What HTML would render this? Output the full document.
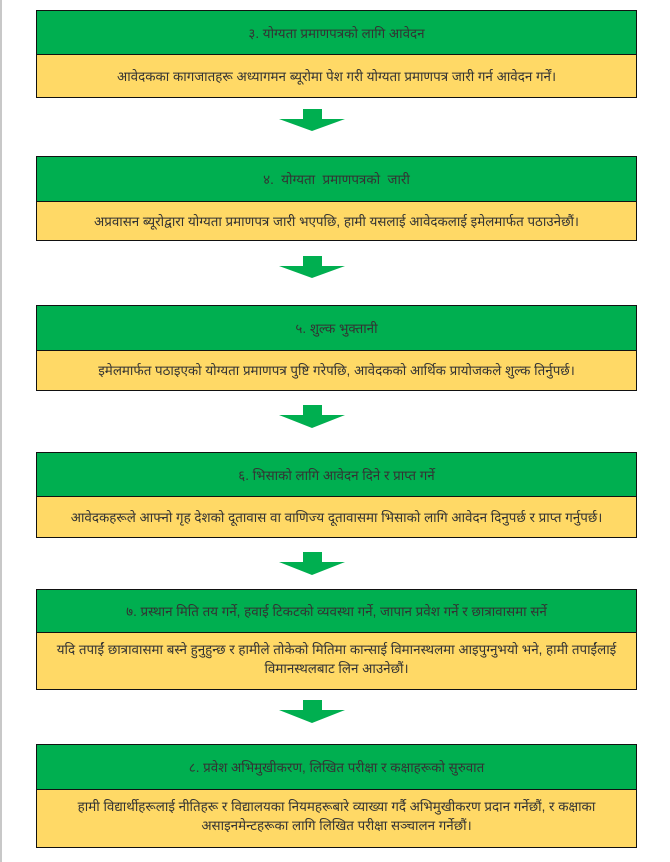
<!DOCTYPE html>
<html><head><meta charset="utf-8"><style>
html,body{margin:0;padding:0;background:#fff;width:670px;height:862px;overflow:hidden;position:relative;font-family:"Liberation Sans","Noto Sans CJK SC",sans-serif;}
.edge{position:absolute;left:0;top:0;width:2px;height:862px;background:#c8c8c8}
.box{position:absolute;left:36px;width:599px;border:1.5px solid #111;}
.g{background:#00AF50;display:flex;align-items:center;justify-content:center;border-bottom:1.5px solid #111;color:#333;font-size:13.4px}
.y{background:#FFD966;display:flex;align-items:center;justify-content:center;text-align:center;color:#333;font-size:13.4px;line-height:19px;padding:0 10px}
svg{position:absolute;left:0;top:0}
</style></head><body>
<div class="edge"></div>
<div class="box" style="top:10px"><div class="g" style="height:43px">३. योग्यता प्रमाणपत्रको लागि आवेदन</div><div class="y" style="height:42px">आवेदकका कागजातहरू अध्यागमन ब्यूरोमा पेश गरी योग्यता प्रमाणपत्र जारी गर्न आवेदन गर्नें।</div></div>
<div class="box" style="top:156px"><div class="g" style="height:44px">४.&nbsp; योग्यता&nbsp; प्रमाणपत्रको&nbsp; जारी</div><div class="y" style="height:38px">अप्रवासन ब्यूरोद्वारा योग्यता प्रमाणपत्र जारी भएपछि, हामी यसलाई आवेदकलाई इमेलमार्फत पठाउनेछौं।</div></div>
<div class="box" style="top:305px"><div class="g" style="height:44px">५. शुल्क भुक्तानी</div><div class="y" style="height:39px">इमेलमार्फत पठाइएको योग्यता प्रमाणपत्र पुष्टि गरेपछि, आवेदकको आर्थिक प्रायोजकले शुल्क तिर्नुपर्छ।</div></div>
<div class="box" style="top:452px"><div class="g" style="height:43px">६. भिसाको लागि आवेदन दिने र प्राप्त गर्ने</div><div class="y" style="height:40px">आवेदकहरूले आफ्नो गृह देशको दूतावास वा वाणिज्य दूतावासमा भिसाको लागि आवेदन दिनुपर्छ र प्राप्त गर्नुपर्छ।</div></div>
<div class="box" style="top:589px"><div class="g" style="height:42px">७. प्रस्थान मिति तय गर्ने, हवाई टिकटको व्यवस्था गर्ने, जापान प्रवेश गर्ने र छात्रावासमा सर्ने</div><div class="y" style="height:56px;align-items:flex-start;padding-top:7px;box-sizing:border-box">यदि तपाईं छात्रावासमा बस्ने हुनुहुन्छ र हामीले तोकेको मितिमा कान्साई विमानस्थलमा आइपुग्नुभयो भने, हामी तपाईंलाई विमानस्थलबाट लिन आउनेछौं।</div></div>
<div class="box" style="top:744px"><div class="g" style="height:44px">८. प्रवेश अभिमुखीकरण, लिखित परीक्षा र कक्षाहरूको सुरुवात</div><div class="y" style="height:57px;align-items:flex-start;padding-top:7px;box-sizing:border-box">हामी विद्यार्थीहरूलाई नीतिहरू र विद्यालयका नियमहरूबारे व्याख्या गर्दै अभिमुखीकरण प्रदान गर्नेछौं, र कक्षाका असाइनमेन्टहरूका लागि लिखित परीक्षा सञ्चालन गर्नेछौं।</div></div>
<svg width="670" height="862">
<g fill="#00AF50">
<polygon points="303,109 322,109 322,119 345,119 312,131 279,119 303,119"/>
<polygon points="303,256 322,256 322,266 345,266 312,278 279,266 303,266"/>
<polygon points="303,405 322,405 322,415 345,415 312,428 279,415 303,415"/>
<polygon points="303,552 322,552 322,562 345,562 312,575 279,562 303,562"/>
<polygon points="303,700 322,700 322,710 345,710 312,723 279,710 303,710"/>
</g></svg>
</body></html>
